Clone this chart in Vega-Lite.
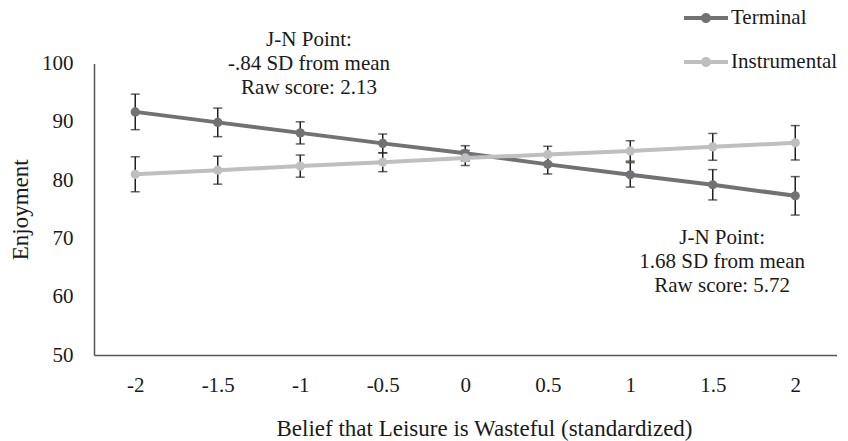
{
  "$schema": "https://vega.github.io/schema/vega-lite/v6.json",
  "width": 742.5,
  "height": 291.5,
  "autosize": {"type": "none"},
  "padding": {"left": 94, "top": 63.5, "right": 11.5, "bottom": 86},
  "background": "white",
  "config": {
    "view": {"stroke": null},
    "font": "Liberation Serif",
    "axis": {"labelFont": "Liberation Serif", "titleFont": "Liberation Serif", "labelColor": "#1a1a1a", "titleColor": "#1a1a1a", "titleFontWeight": "normal", "grid": false, "ticks": false, "domainColor": "#555555", "domainWidth": 1.5},
    "legend": {"labelFont": "Liberation Serif", "labelColor": "#1a1a1a"}
  },
  "datasets": {
    "pts": [
      {"x": -2, "series": "Terminal", "value": 91.7, "lo": 88.65, "hi": 94.75},
      {"x": -1.5, "series": "Terminal", "value": 89.9, "lo": 87.45, "hi": 92.35},
      {"x": -1, "series": "Terminal", "value": 88.1, "lo": 86.2, "hi": 90.0},
      {"x": -0.5, "series": "Terminal", "value": 86.3, "lo": 84.7, "hi": 87.9},
      {"x": 0, "series": "Terminal", "value": 84.6, "lo": 83.3, "hi": 85.9},
      {"x": 0.5, "series": "Terminal", "value": 82.7, "lo": 81.05, "hi": 84.35},
      {"x": 1, "series": "Terminal", "value": 80.9, "lo": 78.8, "hi": 83.0},
      {"x": 1.5, "series": "Terminal", "value": 79.2, "lo": 76.6, "hi": 81.8},
      {"x": 2, "series": "Terminal", "value": 77.3, "lo": 74.0, "hi": 80.6},
      {"x": -2, "series": "Instrumental", "value": 81.0, "lo": 78.0, "hi": 84.0},
      {"x": -1.5, "series": "Instrumental", "value": 81.7, "lo": 79.3, "hi": 84.1},
      {"x": -1, "series": "Instrumental", "value": 82.4, "lo": 80.5, "hi": 84.3},
      {"x": -0.5, "series": "Instrumental", "value": 83.05, "lo": 81.45, "hi": 84.65},
      {"x": 0, "series": "Instrumental", "value": 83.8, "lo": 82.5, "hi": 85.1},
      {"x": 0.5, "series": "Instrumental", "value": 84.4, "lo": 83.0, "hi": 85.8},
      {"x": 1, "series": "Instrumental", "value": 85.0, "lo": 83.25, "hi": 86.75},
      {"x": 1.5, "series": "Instrumental", "value": 85.7, "lo": 83.4, "hi": 88.0},
      {"x": 2, "series": "Instrumental", "value": 86.4, "lo": 83.45, "hi": 89.35}
    ],
    "notes": [
      {"x": -0.947, "y": 104.0, "label": ["J-N Point:", "-.84 SD from mean", "Raw score: 2.13"]},
      {"x": 1.557, "y": 70.0, "label": ["J-N Point:", "1.68 SD from mean", "Raw score: 5.72"]}
    ]
  },
  "layer": [
    {
      "data": {"name": "pts"},
      "mark": {"type": "errorbar", "ticks": {"size": 9, "thickness": 1.5, "color": "#231f20"}, "rule": {"strokeWidth": 1.5, "color": "#231f20"}},
      "encoding": {
        "x": {"field": "x", "type": "quantitative", "title": "Belief that Leisure is Wasteful (standardized)", "scale": {"domain": [-2.25, 2.25], "nice": false, "zero": false}},
        "y": {"field": "lo", "type": "quantitative", "title": "Enjoyment", "scale": {"domain": [50, 100], "nice": false, "zero": false}},
        "y2": {"field": "hi"}
      }
    },
    {
      "data": {"name": "pts"},
      "mark": {"type": "line", "strokeWidth": 4},
      "encoding": {
        "x": {"field": "x", "type": "quantitative", "title": "Belief that Leisure is Wasteful (standardized)"},
        "y": {"field": "value", "type": "quantitative", "title": "Enjoyment"},
        "color": {"field": "series", "type": "nominal", "title": null, "scale": {"domain": ["Terminal", "Instrumental"], "range": ["#727274", "#bfbfc1"]}}
      }
    },
    {
      "data": {"name": "pts"},
      "mark": {"type": "point", "filled": true, "size": 85, "opacity": 1, "shape": "circle"},
      "encoding": {
        "x": {"field": "x", "type": "quantitative", "title": "Belief that Leisure is Wasteful (standardized)",
          "axis": {"values": [-2, -1.5, -1, -0.5, 0, 0.5, 1, 1.5, 2], "labelExpr": "datum.value + ''", "labelFontSize": 21, "titleFontSize": 23, "labelPadding": 19, "titlePadding": 22, "titleX": 390, "titleAlign": "center"}},
        "y": {"field": "value", "type": "quantitative", "title": "Enjoyment",
          "axis": {"values": [50, 60, 70, 80, 90, 100], "labelFontSize": 21, "titleFontSize": 23, "labelPadding": 21, "titlePadding": 9}},
        "color": {"field": "series", "type": "nominal", "title": null,
          "legend": {"orient": "none", "legendX": 592, "legendY": -65.5, "padding": 0, "rowPadding": 14, "labelFontSize": 21, "labelOffset": 5,
            "symbolType": "M-1.1,-0.1L1.1,-0.1L1.1,0.1L-1.1,0.1Z M0.25,0A0.25,0.25,0,1,1,-0.25,0A0.25,0.25,0,1,1,0.25,0Z",
            "symbolSize": 1600, "symbolStrokeWidth": 0,
            "encode": {"symbols": {"update": {"fill": {"scale": "color", "field": "value"}, "stroke": {"value": "transparent"}, "opacity": {"value": 1}}}}}}
      }
    },
    {
      "data": {"name": "notes"},
      "mark": {"type": "text", "fontSize": 21, "lineHeight": 24, "align": "center", "baseline": "middle", "color": "#1a1a1a", "font": "Liberation Serif"},
      "encoding": {
        "x": {"field": "x", "type": "quantitative"},
        "y": {"field": "y", "type": "quantitative"},
        "text": {"field": "label"}
      }
    }
  ]
}
